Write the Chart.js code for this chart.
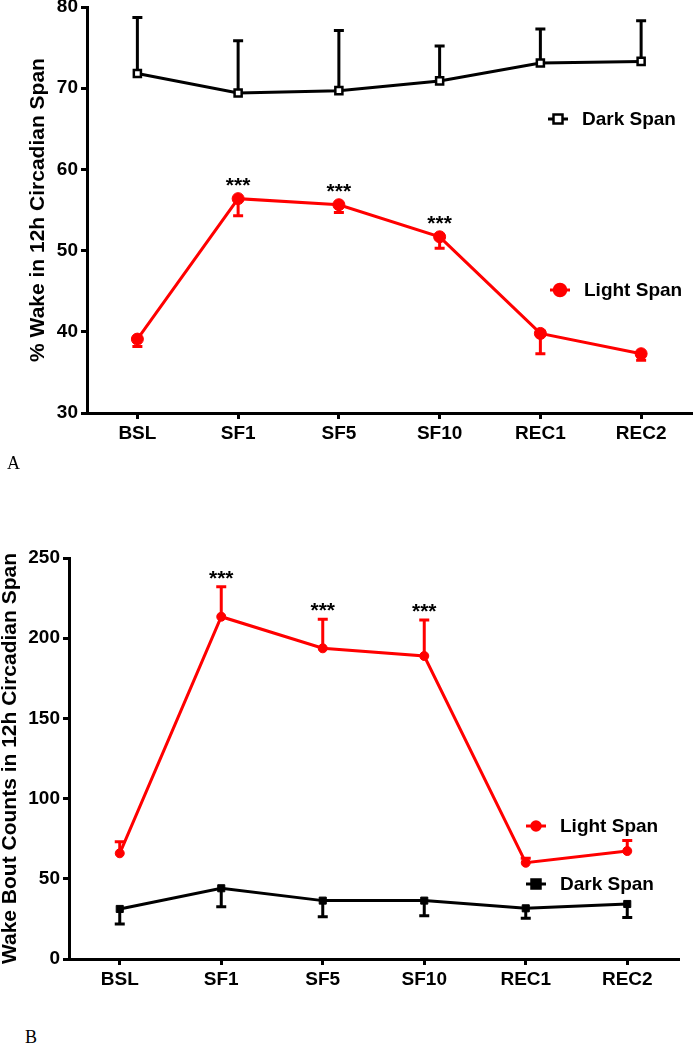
<!DOCTYPE html>
<html>
<head>
<meta charset="utf-8">
<script src="https://cdn.jsdelivr.net/npm/chart.js@4"></script>
<style>
html, body { margin: 0; padding: 0; background: #fff; width: 699px; height: 1050px; overflow: hidden; position: relative; }
.box { position: absolute; left: 0; width: 699px; }
.tag { position: absolute; font-family: "Liberation Serif", "Times New Roman", serif; font-size: 18px; color: #000; }
</style>
</head>
<body>
<div class="box" style="top:-10px;height:490px;"><canvas id="chartA"></canvas></div>
<div class="tag" style="left:7px;top:453px;">A</div>
<div class="box" style="top:540px;height:480px;"><canvas id="chartB"></canvas></div>
<div class="tag" style="left:25px;top:1027px;">B</div>

<script>
const categories = ["BSL", "SF1", "SF5", "SF10", "REC1", "REC2"];

// panel A: % wake
const darkWakePct = [71.8, 69.4, 69.7, 70.9, 73.1, 73.3];
const darkWakeErr = [6.9, 6.45, 7.4, 4.3, 4.2, 5.0];
const lightWakePct = [39.1, 56.4, 55.65, 51.7, 39.8, 37.3];
const lightWakeErr = [0.9, 2.1, 0.95, 1.4, 2.5, 0.8];
const lightWakeStars = ["", "***", "***", "***", "", ""];

// panel B: wake bout counts
const lightBouts = [65.9, 213.4, 193.7, 188.9, 60.0, 67.3];
const lightBoutsErr = [7.2, 18.6, 18.1, 22.4, 2.8, 6.5];
const lightBoutsStars = ["", "***", "***", "***", "", ""];
const darkBouts = [31.2, 44.1, 36.4, 36.4, 31.6, 34.3];
const darkBoutsErr = [9.4, 11.5, 10.0, 9.4, 6.2, 8.5];

const FONT = "'Liberation Sans', Arial, Helvetica, sans-serif";
const RED = "#ff0000";

// one-sided error bars + significance stars
const errorBars = {
    id: "errorBars",
    beforeDatasetsDraw(chart) {
        const ctx = chart.ctx;
        const y = chart.scales.y;
        chart.data.datasets.forEach((ds, i) => {
            const meta = chart.getDatasetMeta(i);
            ctx.save();
            ctx.strokeStyle = ds.borderColor;
            ctx.lineWidth = 3;
            meta.data.forEach((pt, j) => {
                const end = y.getPixelForValue(ds.data[j] + ds.errDir * ds.errors[j]);
                ctx.beginPath();
                ctx.moveTo(pt.x, pt.y);
                ctx.lineTo(pt.x, end);
                ctx.moveTo(pt.x - 5, end);
                ctx.lineTo(pt.x + 5, end);
                ctx.stroke();
            });
            ctx.restore();
        });
    },
    afterDatasetsDraw(chart) {
        const ctx = chart.ctx;
        const y = chart.scales.y;
        chart.data.datasets.forEach((ds, i) => {
            if (!ds.stars) return;
            const meta = chart.getDatasetMeta(i);
            ctx.save();
            ctx.fillStyle = "#000";
            ctx.font = "bold 21px " + FONT;
            ctx.textAlign = "center";
            ctx.textBaseline = "alphabetic";
            meta.data.forEach((pt, j) => {
                if (!ds.stars[j]) return;
                const top = ds.errDir > 0 ? ds.data[j] + ds.errors[j] : ds.data[j];
                const py = y.getPixelForValue(top) - ds.starGap + 12;
                ctx.fillText(ds.stars[j], pt.x, py);
            });
            ctx.restore();
        });
    }
};

const spanLegend = {
    id: "spanLegend",
    afterDraw(chart, args, opts) {
        const ctx = chart.ctx;
        (opts.items || []).forEach(it => {
            ctx.save();
            ctx.strokeStyle = it.color;
            ctx.lineWidth = 3;
            ctx.beginPath();
            ctx.moveTo(it.x - 10, it.y);
            ctx.lineTo(it.x + 10, it.y);
            ctx.stroke();
            ctx.fillStyle = it.fill;
            ctx.lineWidth = 2.5;
            ctx.beginPath();
            if (it.shape === "rect") {
                ctx.rect(it.x - it.r, it.y - it.r, it.r * 2, it.r * 2);
            } else {
                ctx.arc(it.x, it.y, it.r, 0, Math.PI * 2);
            }
            ctx.fill();
            ctx.stroke();
            ctx.fillStyle = "#000";
            ctx.font = "bold 19px " + FONT;
            ctx.textBaseline = "middle";
            ctx.fillText(it.label, it.x + 24, it.y + 1);
            ctx.restore();
        });
    }
};

function makeChart(id, datasets, yOpts, box) {
    return new Chart(document.getElementById(id), {
        type: "line",
        data: { labels: categories, datasets },
        options: {
            responsive: true,
            maintainAspectRatio: false,
            animation: false,
            events: [],
            layout: { padding: { top: box.top, right: box.right, left: 0, bottom: 0 } },
            plugins: {
                legend: { display: false },
                tooltip: { enabled: false },
                spanLegend: { items: box.legend }
            },
            scales: {
                x: {
                    type: "category",
                    offset: true,
                    grid: { drawOnChartArea: false, drawTicks: true, tickLength: 6, color: "#000", lineWidth: 3 },
                    border: { color: "#000", width: 3 },
                    ticks: { color: "#000", padding: 3, maxRotation: 0, autoSkip: false, font: { family: FONT, size: 19, weight: "bold" } },
                    afterFit(s) { s.height = box.xHeight; s.paddingLeft = 0; s.paddingRight = 0; }
                },
                y: {
                    min: yOpts.min,
                    max: yOpts.max,
                    grid: { drawOnChartArea: false, drawTicks: true, tickLength: 6, color: "#000", lineWidth: 3 },
                    border: { color: "#000", width: 3 },
                    ticks: { stepSize: yOpts.step, color: "#000", padding: 3, font: { family: FONT, size: 19, weight: "bold" } },
                    title: {
                        display: true,
                        text: yOpts.title,
                        color: "#000",
                        padding: { top: box.titlePad, bottom: 0 },
                        font: { family: FONT, size: 21, weight: "bold", lineHeight: 1 }
                    },
                    afterFit(s) { s.width = box.yWidth; s.paddingTop = 0; s.paddingBottom = 0; }
                }
            }
        },
        plugins: [errorBars, spanLegend]
    });
}

// A
makeChart("chartA", [
    {
        label: "Dark Span",
        data: darkWakePct,
        errors: darkWakeErr,
        errDir: 1,
        borderColor: "#000",
        borderWidth: 3,
        tension: 0,
        pointStyle: "rect",
        pointRadius: 5,
        pointBorderWidth: 2.5,
        pointBackgroundColor: "#fff",
        pointBorderColor: "#000"
    },
    {
        label: "Light Span",
        data: lightWakePct,
        errors: lightWakeErr,
        errDir: -1,
        stars: lightWakeStars,
        starGap: 19,
        borderColor: RED,
        borderWidth: 3,
        tension: 0,
        pointStyle: "circle",
        pointRadius: 6,
        pointBorderWidth: 1,
        pointBackgroundColor: RED,
        pointBorderColor: RED
    }
], { min: 30, max: 80, step: 10, title: "% Wake in 12h Circadian Span" }, {
    top: 17, right: 0, xHeight: 67, yWidth: 87, titlePad: 28,
    legend: [
        { label: "Dark Span", x: 558, y: 129, color: "#000", fill: "#fff", shape: "rect", r: 4.5 },
        { label: "Light Span", x: 560, y: 300, color: RED, fill: RED, shape: "circle", r: 6 }
    ]
});

// B
makeChart("chartB", [
    {
        label: "Light Span",
        data: lightBouts,
        errors: lightBoutsErr,
        errDir: 1,
        stars: lightBoutsStars,
        starGap: 14,
        borderColor: RED,
        borderWidth: 3,
        tension: 0,
        pointStyle: "circle",
        pointRadius: 4.5,
        pointBorderWidth: 1,
        pointBackgroundColor: RED,
        pointBorderColor: RED
    },
    {
        label: "Dark Span",
        data: darkBouts,
        errors: darkBoutsErr,
        errDir: -1,
        borderColor: "#000",
        borderWidth: 3,
        tension: 0,
        pointStyle: "rect",
        pointRadius: 5,
        pointBorderWidth: 1,
        pointBackgroundColor: "#000",
        pointBorderColor: "#000"
    }
], { min: 0, max: 250, step: 50, title: "Wake Bout Counts in 12h Circadian Span" }, {
    top: 18, right: 21, xHeight: 61, yWidth: 69, titlePad: 0,
    legend: [
        { label: "Light Span", x: 536, y: 286, color: RED, fill: RED, shape: "circle", r: 4.5 },
        { label: "Dark Span", x: 536, y: 344, color: "#000", fill: "#000", shape: "rect", r: 4.5 }
    ]
});
</script>
</body>
</html>
